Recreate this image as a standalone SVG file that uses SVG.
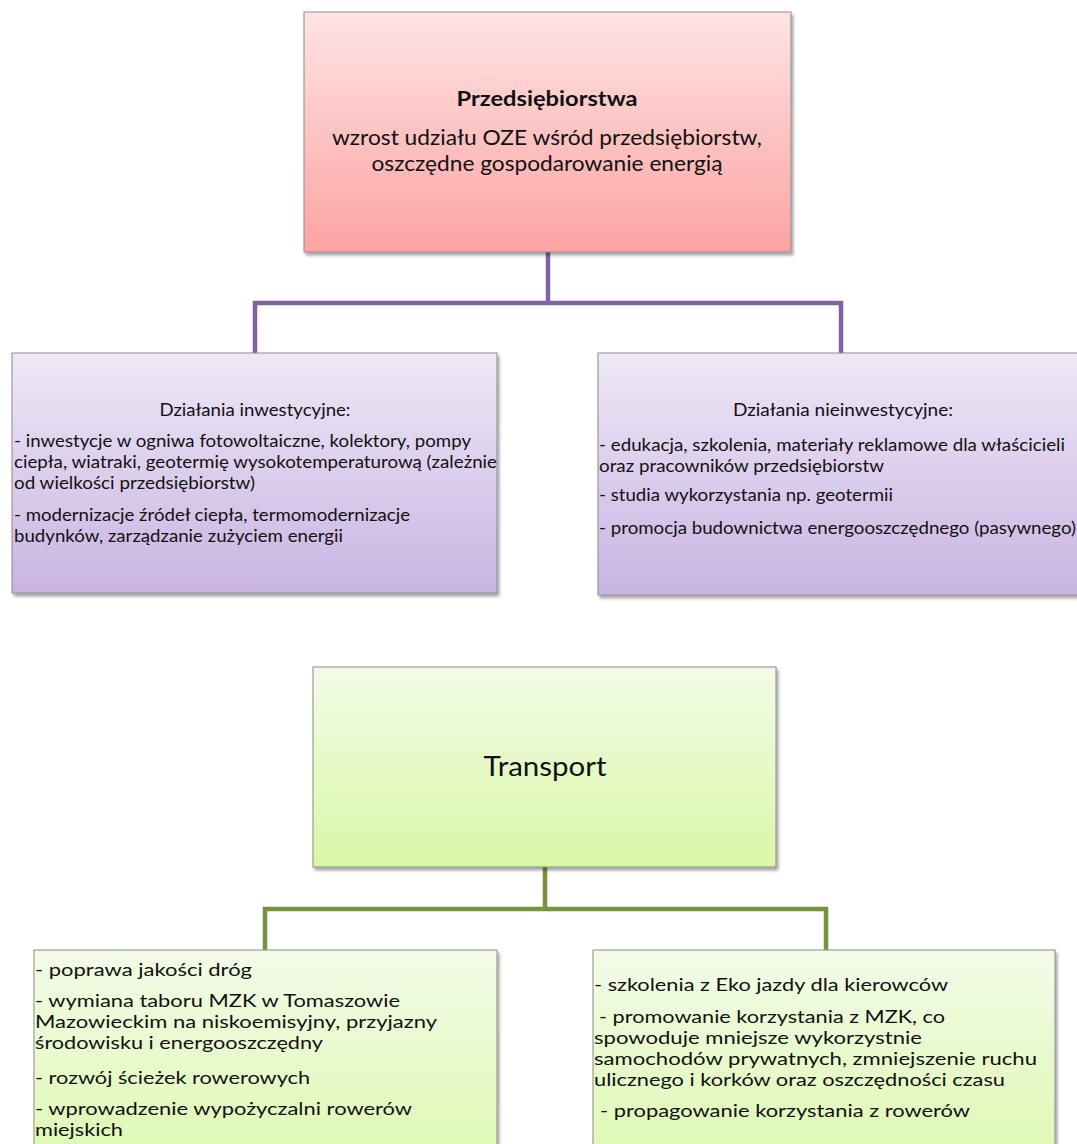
<svg xmlns="http://www.w3.org/2000/svg" width="1077" height="1144" viewBox="0 0 1077 1144">
<defs>
<linearGradient id="gPink" x1="0" y1="0" x2="0" y2="1"><stop offset="0" stop-color="#FEE4E4"/><stop offset="1" stop-color="#FCA3A3"/></linearGradient>
<linearGradient id="gPurple" x1="0" y1="0" x2="0" y2="1"><stop offset="0" stop-color="#EEE8F6"/><stop offset="1" stop-color="#C9B4E2"/></linearGradient>
<linearGradient id="gGreen" x1="0" y1="0" x2="0" y2="1"><stop offset="0" stop-color="#F3FBE8"/><stop offset="1" stop-color="#D8F7A6"/></linearGradient>
<linearGradient id="gGreen2" x1="0" y1="0" x2="0" y2="1"><stop offset="0" stop-color="#F3FBE8"/><stop offset="1" stop-color="#DDF8B0"/></linearGradient>
<filter id="sh" x="-5%" y="-5%" width="115%" height="115%"><feGaussianBlur in="SourceAlpha" stdDeviation="1.5"/><feOffset dx="1.5" dy="2.5" result="b"/><feComponentTransfer><feFuncA type="linear" slope="0.35"/></feComponentTransfer><feMerge><feMergeNode/><feMergeNode in="SourceGraphic"/></feMerge></filter>
</defs>
<style>
.box{stroke:#8C8C8C;stroke-width:1;filter:url(#sh)}
.t{font-family:Lato,"Liberation Sans",sans-serif;fill:#111}
.s{font-size:17px}
.m{font-size:18px}
.b{font-size:21px}
.c{text-anchor:middle}
.lp{fill:none;stroke:#8064A2;stroke-width:4.5}
.lg{fill:none;stroke:#77933C;stroke-width:4.5}
</style>
<rect width="1077" height="1144" fill="#FFFFFF"/>
<g id="connectors">
<path class="lp" d="M548 252V303M255 353V303H841V353"/>
<path class="lg" d="M545 867V909M265 950V909H826V950"/>
</g>
<g id="przedsiebiorstwa">
<rect class="box" x="304" y="12" width="487" height="240" fill="url(#gPink)"/>
<text class="t c" x="547" y="106" font-weight="bold" font-size="20" textLength="181" lengthAdjust="spacingAndGlyphs">Przedsiębiorstwa</text>
<text class="t b c" x="547" y="145" textLength="430" lengthAdjust="spacingAndGlyphs">wzrost udziału OZE wśród przedsiębiorstw,</text>
<text class="t b c" x="547" y="171" textLength="351" lengthAdjust="spacingAndGlyphs">oszczędne gospodarowanie energią</text>
</g>
<g id="inwestycyjne">
<rect class="box" x="12" y="353" width="485" height="240" fill="url(#gPurple)"/>
<text class="t s c" x="255" y="416" textLength="191" lengthAdjust="spacingAndGlyphs">Działania inwestycyjne:</text>
<text class="t s" x="14" y="447" textLength="457" lengthAdjust="spacingAndGlyphs">- inwestycje w ogniwa fotowoltaiczne, kolektory, pompy</text>
<text class="t s" x="14" y="468" textLength="483" lengthAdjust="spacingAndGlyphs">ciepła, wiatraki, geotermię wysokotemperaturową (zależnie</text>
<text class="t s" x="14" y="489" textLength="241" lengthAdjust="spacingAndGlyphs">od wielkości przedsiębiorstw)</text>
<text class="t s" x="14" y="521" textLength="396" lengthAdjust="spacingAndGlyphs">- modernizacje źródeł ciepła, termomodernizacje</text>
<text class="t s" x="14" y="542" textLength="329" lengthAdjust="spacingAndGlyphs">budynków, zarządzanie zużyciem energii</text>
</g>
<g id="nieinwestycyjne">
<rect class="box" x="598" y="353" width="490" height="242" fill="url(#gPurple)"/>
<text class="t s c" x="843" y="416" textLength="220" lengthAdjust="spacingAndGlyphs">Działania nieinwestycyjne:</text>
<text class="t s" x="599" y="451" textLength="466" lengthAdjust="spacingAndGlyphs">- edukacja, szkolenia, materiały reklamowe dla właścicieli</text>
<text class="t s" x="599" y="472" textLength="285" lengthAdjust="spacingAndGlyphs">oraz pracowników przedsiębiorstw</text>
<text class="t s" x="599" y="501" textLength="294" lengthAdjust="spacingAndGlyphs">- studia wykorzystania np. geotermii</text>
<text class="t s" x="599" y="534" textLength="477" lengthAdjust="spacingAndGlyphs">- promocja budownictwa energooszczędnego (pasywnego)</text>
</g>
<g id="transport">
<rect class="box" x="313" y="667" width="463" height="200" fill="url(#gGreen)"/>
<text class="t c" x="545" y="776" font-size="27" textLength="123" lengthAdjust="spacingAndGlyphs">Transport</text>
</g>
<g id="transport-inwestycyjne">
<rect class="box" x="34" y="950" width="463" height="220" fill="url(#gGreen2)"/>
<text class="t m" x="35" y="976" textLength="217" lengthAdjust="spacingAndGlyphs">- poprawa jakości dróg</text>
<text class="t m" x="35" y="1007" textLength="365" lengthAdjust="spacingAndGlyphs">- wymiana taboru MZK w Tomaszowie</text>
<text class="t m" x="35" y="1028" textLength="402" lengthAdjust="spacingAndGlyphs">Mazowieckim na niskoemisyjny, przyjazny</text>
<text class="t m" x="35" y="1049" textLength="288" lengthAdjust="spacingAndGlyphs">środowisku i energooszczędny</text>
<text class="t m" x="35" y="1084" textLength="275" lengthAdjust="spacingAndGlyphs">- rozwój ścieżek rowerowych</text>
<text class="t m" x="35" y="1115" textLength="377" lengthAdjust="spacingAndGlyphs">- wprowadzenie wypożyczalni rowerów</text>
<text class="t m" x="35" y="1136" textLength="88" lengthAdjust="spacingAndGlyphs">miejskich</text>
</g>
<g id="transport-nieinwestycyjne">
<rect class="box" x="593" y="950" width="462" height="220" fill="url(#gGreen2)"/>
<text class="t m" x="594" y="991" textLength="354" lengthAdjust="spacingAndGlyphs">- szkolenia z Eko jazdy dla kierowców</text>
<text class="t m" x="599" y="1023" textLength="346" lengthAdjust="spacingAndGlyphs">- promowanie korzystania z MZK, co</text>
<text class="t m" x="594" y="1044" textLength="328" lengthAdjust="spacingAndGlyphs">spowoduje mniejsze wykorzystnie</text>
<text class="t m" x="594" y="1065" textLength="443" lengthAdjust="spacingAndGlyphs">samochodów prywatnych, zmniejszenie ruchu</text>
<text class="t m" x="594" y="1086" textLength="411" lengthAdjust="spacingAndGlyphs">ulicznego i korków oraz oszczędności czasu</text>
<text class="t m" x="600" y="1117" textLength="370" lengthAdjust="spacingAndGlyphs">- propagowanie korzystania z rowerów</text>
</g>
</svg>
